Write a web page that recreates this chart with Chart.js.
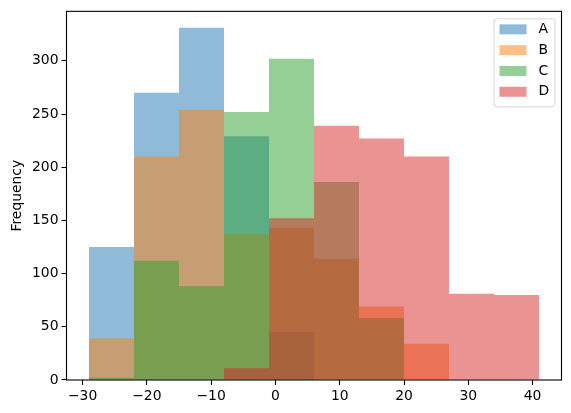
<!DOCTYPE html>
<html>
<head>
<meta charset="utf-8">
<script src="https://cdn.jsdelivr.net/npm/chart.js@4/dist/chart.umd.min.js"></script>
<style>
	html, body { margin: 0; padding: 0; background: #fff; }
	#wrap { width: 571px; height: 413px; }
</style>
</head>
<body>
<div id="wrap"><canvas id="histChart"></canvas></div>
<script>
"use strict";

// bin centres (bins of width 7 from -29 to 41)
const binCenters = [-25.5, -18.5, -11.5, -4.5, 2.5, 9.5, 16.5, 23.5, 30.5, 37.5];
const seriesNames = ["A", "B", "C", "D"];
const countsA = [125, 270, 331, 229, 45, 0, 0, 0, 0, 0];
const countsB = [39, 210, 254, 137, 143, 114, 69, 34, 0, 0];
const countsC = [2, 112, 88, 252, 302, 186, 58, 0, 0, 0];
const countsD = [0, 0, 0, 11, 152, 239, 227, 210, 81, 80];
const xTicks = [-30, -20, -10, 0, 10, 20, 30, 40];
const yTicks = [0, 50, 100, 150, 200, 250, 300];
const colors = ["rgba(31, 119, 180, 0.5)", "rgba(255, 127, 14, 0.5)", "rgba(44, 160, 44, 0.5)", "rgba(214, 39, 40, 0.5)"];

const fontFamily = "'DejaVu Sans', sans-serif";
const fontSize = 13.9;

const allCounts = [countsA, countsB, countsC, countsD];
const datasets = allCounts.map((counts, index) => ({
	label: seriesNames[index],
	data: counts.map((count, binIndex) => ({ x: binCenters[binIndex], y: count })),
	backgroundColor: colors[index],
	borderWidth: 0,
	inflateAmount: 0,
	barPercentage: 1,
	categoryPercentage: 1,
	grouped: false,
	// matplotlib draws A first, D last (on top)
	order: seriesNames.length - index
}));

// legend box and axes frame drawn inside the plot like matplotlib
const frameAndLegend = {
	id: "frameAndLegend",
	afterDraw: chart => {
		let ctx = chart.ctx;
		let area = chart.chartArea;
		ctx.save();
		ctx.strokeStyle = "#000";
		ctx.lineWidth = 1.1;
		ctx.strokeRect(area.left, area.top, area.right - area.left, area.bottom - area.top);

		let boxRight = area.right - 7;
		let boxTop = area.top + 7;
		let boxWidth = 61;
		let boxHeight = 88;
		let boxLeft = boxRight - boxWidth;
		ctx.fillStyle = "rgba(255, 255, 255, 0.8)";
		ctx.strokeStyle = "#d6d6d6";
		ctx.lineWidth = 1;
		ctx.beginPath();
		ctx.roundRect(boxLeft + 0.5, boxTop + 0.5, boxWidth, boxHeight, 3);
		ctx.fill();
		ctx.stroke();

		ctx.font = `${fontSize}px ${fontFamily}`;
		ctx.textBaseline = "middle";
		for (let index = 0; index < seriesNames.length; index++) {
			let rowY = boxTop + 11 + index * 20.8;
			ctx.fillStyle = colors[index];
			ctx.fillRect(boxLeft + 6, rowY - 5, 27, 10);
			ctx.fillStyle = "#000";
			ctx.fillText(seriesNames[index], boxLeft + 45, rowY);
		}
		ctx.restore();
	}
};

const minusSign = value => String(value).replace("-", "\u2212");

new Chart(document.querySelector("canvas#histChart"), {
	type: "bar",
	data: {
		datasets: datasets
	},
	options: {
		responsive: true,
		maintainAspectRatio: false,
		animation: false,
		layout: {
			padding: { top: 10.5, right: 9.5, left: 0, bottom: 0 }
		},
		scales: {
			x: {
				type: "linear",
				offset: false,
				min: -32.5,
				max: 44.5,
				afterBuildTicks: scale => {
					scale.ticks = xTicks.map(value => ({ value: value }));
				},
				afterFit: scale => {
					scale.height = 33;
				},
				grid: {
					offset: false,
					drawOnChartArea: false,
					drawTicks: true,
					tickLength: 5,
					color: "#000",
					tickWidth: 1.1
				},
				border: { display: false },
				ticks: {
					color: "#000",
					padding: 3,
					maxRotation: 0,
					callback: value => minusSign(value),
					font: { family: fontFamily, size: fontSize }
				}
			},
			y: {
				min: 0,
				max: 346.5,
				afterBuildTicks: scale => {
					scale.ticks = yTicks.map(value => ({ value: value }));
				},
				afterFit: scale => {
					scale.width = 66.5;
				},
				grid: {
					drawOnChartArea: false,
					drawTicks: true,
					tickLength: 5,
					color: "#000",
					tickWidth: 1.1
				},
				border: { display: false },
				ticks: {
					color: "#000",
					padding: 3,
					font: { family: fontFamily, size: fontSize }
				},
				title: {
					display: true,
					text: "Frequency",
					color: "#000",
					padding: { top: 9, bottom: 0 },
					font: { family: fontFamily, size: fontSize }
				}
			}
		},
		plugins: {
			legend: { display: false },
			tooltip: { enabled: false }
		}
	},
	plugins: [frameAndLegend]
});
</script>
</body>
</html>
